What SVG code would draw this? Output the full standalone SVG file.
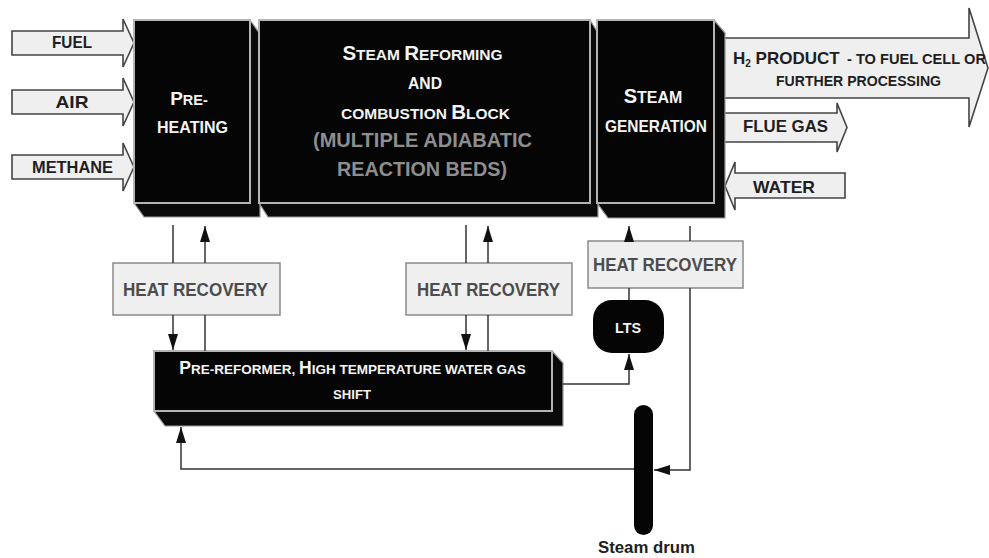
<svg xmlns="http://www.w3.org/2000/svg" width="989" height="558" viewBox="0 0 989 558">
  <defs>
    <marker id="ah" viewBox="0 0 16 10" refX="16" refY="5" markerWidth="16" markerHeight="10" markerUnits="userSpaceOnUse" orient="auto">
      <path d="M0,0 L16,5 L0,10 z" fill="#111"/>
    </marker>
    <style>
      text { font-family: "Liberation Sans", Arial, sans-serif; font-weight: bold; }
      .flow { fill: #efefef; stroke: #444; stroke-width: 1.6; stroke-linejoin: miter; }
      .flowtxt { fill: #1e1e1e; font-size: 17px; text-anchor: middle; }
      .face { fill: #050505; stroke: #b4b4b4; stroke-width: 2; }
      .side { fill: #0a0a0a; stroke: #9a9a9a; stroke-width: 1.2; stroke-linejoin: round; }
      .btxt { fill: #f4f4f4; text-anchor: middle; }
      .gtxt { fill: #8e8e8e; text-anchor: middle; font-size: 21px; }
      .hr { fill: #efefef; stroke: #8a8a8a; stroke-width: 1.5; }
      .hrtxt { fill: #4c4c4c; font-size: 18.5px; text-anchor: middle; }
      .conn { fill: none; stroke: #333; stroke-width: 1.5; }
      .arr { marker-end: url(#ah); }
    </style>
  </defs>
  <rect width="989" height="558" fill="#ffffff"/>

  <!-- feed and product streams (drawn below the blocks) -->
  <g id="stream-fuel">
    <polygon class="flow" points="12,31 123,31 123,19 134,43 123,67 123,55 12,55"/>
    <text class="flowtxt" x="72" y="48" textLength="40" lengthAdjust="spacingAndGlyphs">FUEL</text>
  </g>
  <g id="stream-air">
    <polygon class="flow" points="12,90 123,90 123,78 134,102 123,126 123,114 12,114"/>
    <text class="flowtxt" x="72" y="108" textLength="33" lengthAdjust="spacingAndGlyphs">AIR</text>
  </g>
  <g id="stream-methane">
    <polygon class="flow" points="12,155 123,155 123,143 134,167 123,191 123,179 12,179"/>
    <text class="flowtxt" x="72.5" y="173" textLength="81" lengthAdjust="spacingAndGlyphs">METHANE</text>
  </g>
  <g id="stream-h2">
    <polygon class="flow" points="720,38 969,38 969,8 988,68 969,127 969,98 720,98"/>
    <text x="733" y="64" font-size="17" fill="#1e1e1e">H<tspan font-size="10" dy="3">2</tspan><tspan dy="-3"> PRODUCT</tspan></text>
    <text x="847" y="64" font-size="14.5" fill="#1e1e1e" textLength="139" lengthAdjust="spacingAndGlyphs">- TO FUEL CELL OR</text>
    <text x="858.5" y="86" font-size="14.5" fill="#1e1e1e" text-anchor="middle" textLength="165" lengthAdjust="spacingAndGlyphs">FURTHER PROCESSING</text>
  </g>
  <g id="stream-flue">
    <polygon class="flow" points="720,113 837,113 837,103 847,127.5 837,152 837,142 720,142"/>
    <text class="flowtxt" x="785.5" y="132" textLength="85" lengthAdjust="spacingAndGlyphs">FLUE GAS</text>
  </g>
  <g id="stream-water">
    <polygon class="flow" points="845,173 735,173 735,162 725,186 735,210 735,198 845,198"/>
    <text class="flowtxt" x="784" y="193" textLength="62" lengthAdjust="spacingAndGlyphs">WATER</text>
  </g>

  <!-- process blocks -->
  <g id="block-preheating">
    <polygon class="side" points="250,20 260,34 260,217 144,217 134,203 250,203"/>
    <rect class="face" x="134" y="20" width="116" height="183"/>
    <text class="btxt" x="189" y="105"><tspan font-size="19">P</tspan><tspan font-size="14.5">RE-</tspan></text>
    <text class="btxt" x="192.5" y="133" font-size="17" textLength="71" lengthAdjust="spacingAndGlyphs">HEATING</text>
  </g>
  <g id="block-reforming">
    <polygon class="side" points="590,20 598,33 598,217 268,217 259,203 590,203"/>
    <rect class="face" x="259" y="20" width="331" height="183"/>
    <text class="btxt" x="422.5" y="60"><tspan font-size="20.5">S</tspan><tspan font-size="15.5">TEAM </tspan><tspan font-size="20.5">R</tspan><tspan font-size="15.5">EFORMING</tspan></text>
    <text class="btxt" x="425" y="89" font-size="16.5" textLength="34" lengthAdjust="spacingAndGlyphs">AND</text>
    <text class="btxt" x="425.5" y="119"><tspan font-size="15.5">COMBUSTION </tspan><tspan font-size="20.5">B</tspan><tspan font-size="15.5">LOCK</tspan></text>
    <text class="gtxt" x="422.5" y="147" textLength="219" lengthAdjust="spacingAndGlyphs">(MULTIPLE ADIABATIC</text>
    <text class="gtxt" x="422" y="176" textLength="170" lengthAdjust="spacingAndGlyphs">REACTION BEDS)</text>
  </g>
  <g id="block-steamgen">
    <polygon class="side" points="714,20 725,33 725,218 608,218 597,203 714,203"/>
    <rect class="face" x="597" y="20" width="117" height="183"/>
    <text class="btxt" x="653" y="103"><tspan font-size="20">S</tspan><tspan font-size="16">TEAM</tspan></text>
    <text class="btxt" x="656" y="132" font-size="16.5" textLength="102" lengthAdjust="spacingAndGlyphs">GENERATION</text>
  </g>
  <g id="block-prereformer">
    <polygon class="side" points="552,351 563,363 563,426 165,426 154,411 552,411"/>
    <rect class="face" x="154" y="351" width="398" height="60"/>
    <text class="btxt" x="352.5" y="374"><tspan font-size="17.5">P</tspan><tspan font-size="13.5">RE-REFORMER,  </tspan><tspan font-size="17.5">H</tspan><tspan font-size="13.5">IGH TEMPERATURE WATER GAS</tspan></text>
    <text class="btxt" x="352" y="399" font-size="13.5" textLength="38" lengthAdjust="spacingAndGlyphs">SHIFT</text>
  </g>

  <!-- heat recovery units -->
  <g id="hr-1">
    <rect class="hr" x="113" y="263" width="167" height="52"/>
    <text class="hrtxt" x="195.5" y="296" textLength="145" lengthAdjust="spacingAndGlyphs">HEAT RECOVERY</text>
  </g>
  <g id="hr-2">
    <rect class="hr" x="406" y="263" width="166" height="52"/>
    <text class="hrtxt" x="488.5" y="296" textLength="143" lengthAdjust="spacingAndGlyphs">HEAT RECOVERY</text>
  </g>
  <g id="hr-3">
    <rect class="hr" x="588" y="241" width="155" height="47"/>
    <text class="hrtxt" x="665" y="271" textLength="144" lengthAdjust="spacingAndGlyphs">HEAT RECOVERY</text>
  </g>

  <!-- low temperature shift -->
  <g id="lts">
    <rect x="593" y="300" width="71" height="53" rx="19" ry="19" fill="#050505"/>
    <text class="btxt" x="628" y="333" font-size="14" textLength="26" lengthAdjust="spacingAndGlyphs">LTS</text>
  </g>

  <!-- steam drum -->
  <g id="steam-drum">
    <rect x="634" y="405" width="19" height="130" rx="9.5" ry="9.5" fill="#050505"/>
    <text x="646.5" y="553" font-size="16.5" fill="#1e1e1e" text-anchor="middle" textLength="97" lengthAdjust="spacingAndGlyphs">Steam drum</text>
  </g>

  <!-- connectors -->
  <g id="connectors">
    <line class="conn" x1="173" y1="225" x2="173" y2="263"/>
    <line class="conn arr" x1="205" y1="263" x2="205" y2="226"/>
    <line class="conn arr" x1="173" y1="315" x2="173" y2="350"/>
    <line class="conn" x1="205" y1="315" x2="205" y2="351"/>

    <line class="conn" x1="466" y1="225" x2="466" y2="263"/>
    <line class="conn arr" x1="488" y1="263" x2="488" y2="226"/>
    <line class="conn arr" x1="466" y1="315" x2="466" y2="350"/>
    <line class="conn" x1="488" y1="315" x2="488" y2="351"/>

    <line class="conn arr" x1="629" y1="241" x2="629" y2="226"/>
    <line class="conn" x1="690" y1="226" x2="690" y2="241"/>
    <line class="conn" x1="629" y1="288" x2="629" y2="300"/>

    <path class="conn arr" d="M563,384 H629 V354"/>
    <path class="conn arr" d="M690,288 V470 H654"/>
    <path class="conn arr" d="M634,469 H181 V427"/>
  </g>
</svg>
